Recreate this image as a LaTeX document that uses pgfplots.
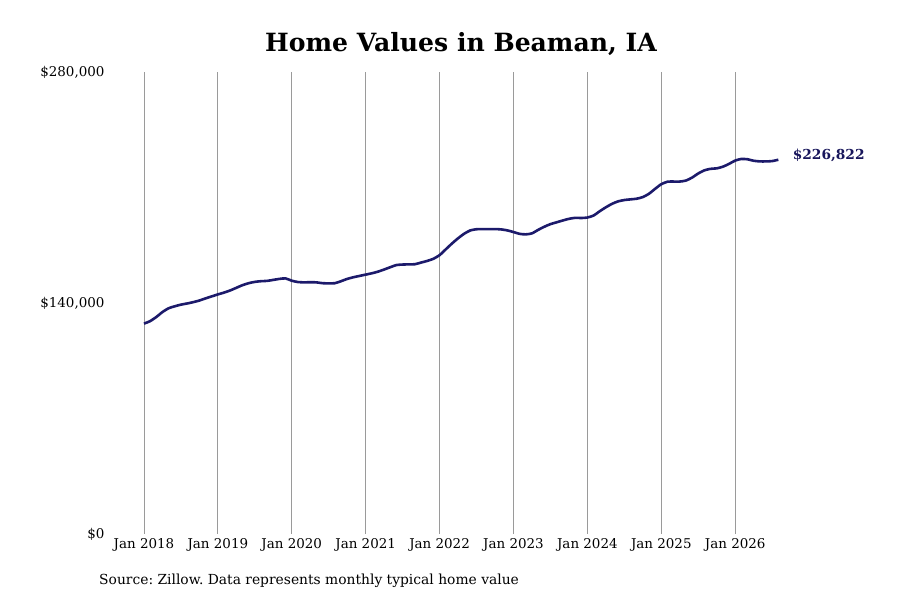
\documentclass[border=0pt]{standalone}
\usepackage{pgfplots}
\pgfplotsset{compat=1.18}
\usepackage{fontspec}
\setmainfont{DejaVu Serif}
\frenchspacing
\definecolor{linenavy}{HTML}{1C1A6B}
\definecolor{gridgray}{HTML}{9A9A9A}

% monthly typical home value (thousands of dollars), Jan 2018 onwards
\pgfplotstableread{
m val
0 127.5
1 129.0
2 131.5
3 134.5
4 136.8
5 138.0
6 139.0
7 139.7
8 140.5
9 141.5
10 142.8
11 144.0
12 145.2
13 146.3
14 147.6
15 149.2
16 150.8
17 152.0
18 152.8
19 153.2
20 153.4
21 154.0
22 154.6
23 154.9
24 153.5
25 152.7
26 152.5
27 152.6
28 152.5
29 152.0
30 151.9
31 152.0
32 153.2
33 154.6
34 155.6
35 156.4
36 157.2
37 158.0
38 159.0
39 160.3
40 161.7
41 163.0
42 163.3
43 163.4
44 163.5
45 164.5
46 165.5
47 166.8
48 169.0
49 172.5
50 176.0
51 179.2
52 182.0
53 184.0
54 184.7
55 184.8
56 184.8
57 184.8
58 184.6
59 184.0
60 183.0
61 181.9
62 181.6
63 182.2
64 184.3
65 186.2
66 187.8
67 188.9
68 190.0
69 191.0
70 191.6
71 191.5
72 191.8
73 193.0
74 195.6
75 198.0
76 200.1
77 201.6
78 202.4
79 202.8
80 203.2
81 204.2
82 206.2
83 209.2
84 212.0
85 213.5
86 213.6
87 213.6
88 214.2
89 216.0
90 218.5
91 220.4
92 221.3
93 221.6
94 222.6
95 224.3
96 226.3
97 227.3
98 227.1
99 226.2
100 225.8
101 225.8
102 226.0
103 226.822
}\homevalues

\begin{document}
\begin{tikzpicture}[x=1bp,y=1bp]
\path[use as bounding box] (0,0) rectangle (900,600);
\begin{axis}[
  at={(107bp,66bp)}, anchor=south west,
  scale only axis, width=683bp, height=462bp,
  xmin=-6, xmax=104.9, ymin=0, ymax=280,
  axis line style={draw=none},
  major tick length=0pt,
  xtick={0,12,...,96},
  xticklabels={Jan 2018,Jan 2019,Jan 2020,Jan 2021,Jan 2022,Jan 2023,Jan 2024,Jan 2025,Jan 2026},
  ytick={0,140,280},
  yticklabels={\$0,\$140{,}000,\$280{,}000},
  xmajorgrids,
  grid style={gridgray, line width=0.8bp},
  ticklabel style={font=\fontsize{13.5}{15}\selectfont, text=black},
  /pgf/number format/assume math mode=true,
  x tick label style={yshift=-1bp},
  y tick label style={xshift=1bp},
  clip=false,
]
\addplot[linenavy, line width=2.6bp, smooth, tension=0.4] table[x=m, y=val] {\homevalues};
\node[anchor=west, font=\bfseries\fontsize{13.8}{15}\selectfont, text=linenavy!85!black, xshift=11bp, yshift=4bp]
  at (axis cs:103,226.822) {\$226,822};
\end{axis}
\node[font=\bfseries\fontsize{25.2}{29}\selectfont] at (461,556) {Home Values in Beaman, IA};
\node[anchor=west, font=\fontsize{13.9}{16}\selectfont, inner sep=0pt] at (99,19) {Source: Zillow. Data represents monthly typical home value};
\end{tikzpicture}
\end{document}
